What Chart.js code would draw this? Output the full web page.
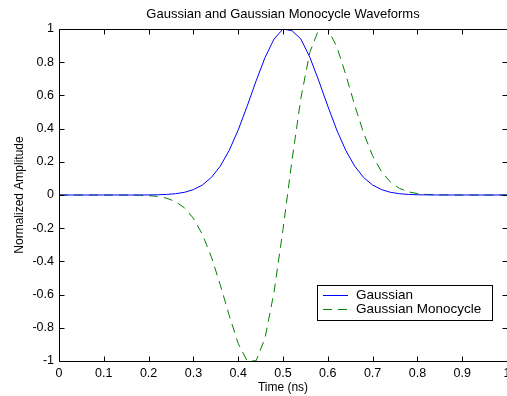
<!DOCTYPE html>
<html>
<head>
<meta charset="utf-8">
<script src="https://cdn.jsdelivr.net/npm/chart.js@4/dist/chart.umd.min.js"></script>
<style>
html,body{margin:0;padding:0;background:#fff;overflow:hidden;}
canvas{display:block;}
</style>
</head>
<body>
<canvas id="c" width="507" height="396"></canvas>
<script>
// ---- data ----
const timeNs = [0,0.02,0.04,0.06,0.08,0.10,0.12,0.14,0.16,0.18,
  0.20,0.22,0.24,0.26,0.28,0.30,0.32,0.34,0.36,0.38,
  0.40,0.42,0.44,0.46,0.48,0.50,0.52,0.54,0.56,0.58,
  0.60,0.62,0.64,0.66,0.68,0.70,0.72,0.74,0.76,0.78,
  0.80,0.82,0.84,0.86,0.88,0.90,0.92,0.94,0.96,0.98,1.00];
const gaussian = [0,0,0,0,0,0,0,0,0,0.0002,
  0.0006,0.0014,0.0034,0.0077,0.0161,0.0322,0.0601,0.1054,0.1738,0.2692,
  0.3917,0.5353,0.6873,0.8291,0.9394,1.0,0.99,0.9394,0.8291,0.6873,
  0.5353,0.3917,0.2692,0.1738,0.1054,0.0601,0.0322,0.0161,0.0077,0.0034,
  0.0014,0.0006,0.0002,0,0,0,0,0,0,0,0];
const monocycle = [0,0,0,0,0,0,0,0,-0.0005,-0.0014,
  -0.0036,-0.0085,-0.019,-0.0396,-0.0772,-0.1401,-0.2369,-0.372,-0.5412,-0.7264,
  -0.8942,-1.0,-0.9988,-0.8605,-0.5851,-0.2076,0.2076,0.5851,0.8605,0.9988,
  1.0,0.8942,0.7264,0.5412,0.372,0.2369,0.1401,0.0772,0.0396,0.019,
  0.0085,0.0036,0.0014,0.0005,0,0,0,0,0,0,0];
const seriesLabels = ['Gaussian','Gaussian Monocycle'];
const xTickValues = [0,0.1,0.2,0.3,0.4,0.5,0.6,0.7,0.8,0.9,1];
const xTickLabels = ['0','0.1','0.2','0.3','0.4','0.5','0.6','0.7','0.8','0.9','1'];
const yTickValues = [-1,-0.8,-0.6,-0.4,-0.2,0,0.2,0.4,0.6,0.8,1];
const yTickLabels = ['-1','-0.8','-0.6','-0.4','-0.2','0','0.2','0.4','0.6','0.8','1'];
const chartTitle = 'Gaussian and Gaussian Monocycle Waveforms';
const xAxisTitle = 'Time (ns)';
const yAxisTitle = 'Normalized Amplitude';

// ---- styling ----
const FONT = "'Liberation Sans', Arial, Helvetica, sans-serif";
const seriesColors = ['#0000ff', '#008000'];
const seriesDash = [[], [9, 6]];

const toPoints = (ys) => timeNs.map((t, i) => ({x: t, y: ys[i]}));

const framePlugin = {
  id: 'frame',
  afterDatasetsDraw(chart) {
    const {ctx, chartArea: a, scales: {x, y}} = chart;
    const L = Math.round(a.left) + 0.5, T = Math.round(a.top) + 0.5;
    const B = Math.round(a.bottom) + 0.5, R = Math.round(a.right) + 0.5;
    const tl = 5;
    ctx.save();
    ctx.strokeStyle = '#000';
    ctx.lineWidth = 1;
    ctx.setLineDash([]);
    ctx.beginPath();
    ctx.moveTo(L, B); ctx.lineTo(L, T); ctx.lineTo(R, T); ctx.lineTo(R, B); ctx.lineTo(L, B);
    x.ticks.forEach(t => {
      const px = Math.round(x.getPixelForValue(t.value)) + 0.5;
      ctx.moveTo(px, B); ctx.lineTo(px, B - tl);
      ctx.moveTo(px, T); ctx.lineTo(px, T + tl);
    });
    y.ticks.forEach(t => {
      const py = Math.round(y.getPixelForValue(t.value)) + 0.5;
      ctx.moveTo(L, py); ctx.lineTo(L + tl, py);
      ctx.moveTo(R, py); ctx.lineTo(R - tl, py);
    });
    ctx.stroke();

    // legend box (inside the axes, lower right)
    const bx = 317.5, by = 285.5, bw = 175, bh = 35;
    ctx.fillStyle = '#fff';
    ctx.fillRect(bx, by, bw, bh);
    ctx.strokeRect(bx, by, bw, bh);
    const rows = [295.5, 309.5];
    ctx.font = '13.5px ' + FONT;
    ctx.textBaseline = 'middle';
    ctx.textAlign = 'left';
    chart.data.datasets.forEach((ds, i) => {
      ctx.strokeStyle = ds.borderColor;
      ctx.setLineDash(ds.borderDash || []);
      ctx.beginPath();
      ctx.moveTo(323, rows[i]);
      ctx.lineTo(348, rows[i]);
      ctx.stroke();
      ctx.fillStyle = '#000';
      ctx.fillText(ds.label, 356, rows[i] - 0.5);
    });
    ctx.restore();
  }
};

new Chart(document.getElementById('c'), {
  type: 'line',
  data: {
    datasets: [
      {label: seriesLabels[0], data: toPoints(gaussian), borderColor: seriesColors[0],
       borderDash: seriesDash[0], borderWidth: 1, pointRadius: 0, tension: 0, fill: false},
      {label: seriesLabels[1], data: toPoints(monocycle), borderColor: seriesColors[1],
       borderDash: seriesDash[1], borderWidth: 1, pointRadius: 0, tension: 0, fill: false}
    ]
  },
  options: {
    responsive: false,
    animation: false,
    devicePixelRatio: 1,
    layout: {padding: 0},
    plugins: {
      legend: {display: false},
      tooltip: {enabled: false},
      title: {
        display: true, text: chartTitle, fullSize: false, color: '#000',
        font: {family: FONT, size: 13, weight: 'normal'},
        padding: {top: 6.6, bottom: 6.8}
      }
    },
    scales: {
      x: {
        type: 'linear', min: 0, max: 1,
        afterBuildTicks: s => { s.ticks = xTickValues.map(v => ({value: v})); },
        afterFit: s => { s.height = 35; s.paddingLeft = 0; s.paddingRight = 0; },
        grid: {display: false, drawTicks: false},
        border: {display: false},
        ticks: {
          autoSkip: false, maxRotation: 0, padding: 4.6, color: '#000',
          font: {family: FONT, size: 12.5},
          callback: (v) => xTickLabels[xTickValues.indexOf(v)]
        },
        title: {display: true, text: xAxisTitle, color: '#000',
          font: {family: FONT, size: 12}, padding: {top: 0, bottom: 1.2}}
      },
      y: {
        type: 'linear', min: -1, max: 1,
        afterBuildTicks: s => { s.ticks = yTickValues.map(v => ({value: v})); },
        afterFit: s => { s.width = 59; s.paddingTop = 0; s.paddingBottom = 0; },
        grid: {display: false, drawTicks: false},
        border: {display: false},
        ticks: {
          autoSkip: false, padding: 5, color: '#000',
          font: {family: FONT, size: 12.5},
          callback: (v) => yTickLabels[yTickValues.indexOf(v)]
        },
        title: {display: true, text: yAxisTitle, color: '#000',
          font: {family: FONT, size: 12}, padding: {top: 12.8, bottom: 0}}
      }
    }
  },
  plugins: [framePlugin]
});
</script>
</body>
</html>
